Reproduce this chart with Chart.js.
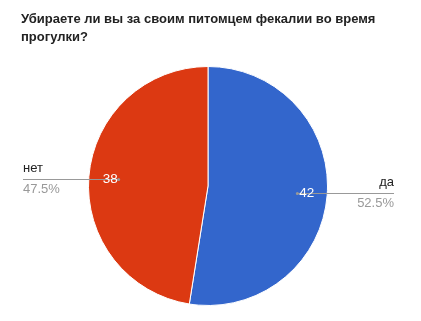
<!DOCTYPE html>
<html>
<head>
<meta charset="utf-8">
<script src="https://cdn.jsdelivr.net/npm/chart.js@4/dist/chart.umd.min.js"></script>
<style>
  html, body { margin: 0; padding: 0; background: #fff; }
  #wrap { width: 421px; height: 321px; }
</style>
</head>
<body>
<div id="wrap"><canvas id="pieChart" width="421" height="321"></canvas></div>
<script>
// answers and counts
let titleLines = ['Убираете ли вы за своим питомцем фекалии во время', 'прогулки?'];
let answers = ['да', 'нет'];
let counts = [42, 38];
let sliceColors = ['#3366CC', '#DC3912'];

let fontFamily = 'Arial, "Liberation Sans", sans-serif';

// leader lines + labels, google forms style
let sliceLabels = {
  id: 'sliceLabels',
  afterDatasetsDraw(chart) {
    let ctx = chart.ctx;
    let meta = chart.getDatasetMeta(0);
    let total = counts.reduce((a, b) => a + b, 0);
    let area = chart.chartArea;

    meta.data.forEach((arc, i) => {
      let p = arc.getProps(['x', 'y', 'startAngle', 'endAngle', 'outerRadius'], true);
      let mid = (p.startAngle + p.endAngle) / 2;
      let px = p.x + Math.cos(mid) * p.outerRadius * 0.75;
      let py = Math.round(p.y + Math.sin(mid) * p.outerRadius * 0.75) + 0.5;
      let right = Math.cos(mid) >= 0;
      let endX = right ? area.right - 1 : area.left + 2;

      ctx.save();
      ctx.strokeStyle = '#999';
      ctx.lineWidth = 1;
      ctx.beginPath();
      ctx.moveTo(px, py);
      ctx.lineTo(endX, py);
      ctx.stroke();
      ctx.fillStyle = '#999';
      ctx.beginPath();
      ctx.arc(px, py, 1.5, 0, Math.PI * 2);
      ctx.fill();

      // value inside slice
      ctx.font = '13.5px ' + fontFamily;
      ctx.fillStyle = '#fff';
      ctx.textBaseline = 'middle';
      ctx.textAlign = right ? 'left' : 'right';
      ctx.fillText(String(counts[i]), right ? px + 2 : px - 1, py);

      // name + percent outside
      ctx.font = '13px ' + fontFamily;
      ctx.textBaseline = 'alphabetic';
      ctx.textAlign = right ? 'right' : 'left';
      ctx.fillStyle = '#222';
      ctx.fillText(answers[i], endX, py - 8);
      ctx.fillStyle = '#999';
      let pct = (counts[i] / total * 100).toFixed(1) + '%';
      ctx.fillText(pct, endX, py + 13.5);
      ctx.restore();
    });
  }
};

let chart = new Chart(document.getElementById('pieChart').getContext('2d'), {
  type: 'pie',
  data: {
    labels: answers,
    datasets: [{
      data: counts,
      backgroundColor: sliceColors,
      borderColor: '#fff',
      borderWidth: 1,
      hoverOffset: 0
    }]
  },
  options: {
    responsive: false,
    animation: false,
    events: [],
    layout: {
      padding: { left: 21, right: 26, top: 0, bottom: 15 }
    },
    plugins: {
      legend: { display: false },
      tooltip: { enabled: false },
      title: {
        display: true,
        text: titleLines,
        align: 'start',
        color: '#222',
        font: { family: fontFamily, size: 13, weight: 'bold', lineHeight: 18 / 13 },
        padding: { top: 10, bottom: 20 }
      }
    }
  },
  plugins: [sliceLabels]
});
</script>
</body>
</html>
